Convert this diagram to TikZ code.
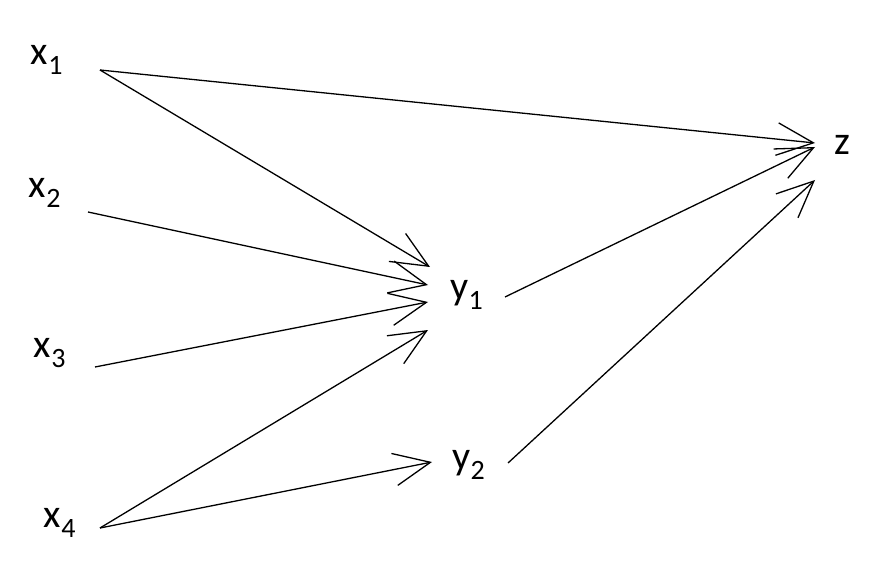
\documentclass[tikz,border=0pt]{standalone}
\usepackage{fontspec}
\setmainfont{Carlito}
\usetikzlibrary{arrows.meta}
\begin{document}
\begin{tikzpicture}[x=1pt,y=-1pt,
  lbl/.style={font=\fontsize{40}{40}\selectfont},
  arr/.style={draw,line width=1.3pt,-{Straight Barb[angle=48:40pt,line width=1.3pt]}}]
\useasboundingbox (0,0) rectangle (875,577);
\node[lbl] (x1) at (47,60) {x\textsubscript{1}};
\node[lbl] (x2) at (45,193) {x\textsubscript{2}};
\node[lbl] (x3) at (50,353) {x\textsubscript{3}};
\node[lbl] (x4) at (60,523) {x\textsubscript{4}};
\node[lbl] (y1) at (467,295) {y\textsubscript{1}};
\node[lbl] (y2) at (469,465) {y\textsubscript{2}};
\node[lbl] (z) at (842,145) {z};
\coordinate (x1o) at (100,70);
\coordinate (x2o) at (88,212);
\coordinate (x3o) at (95,367);
\coordinate (x4o) at (100,528);
\coordinate (y1a) at (430,267);
\coordinate (y1b) at (428,285);
\coordinate (y1c) at (428,302);
\coordinate (y1d) at (428,330);
\coordinate (y1o) at (505,297);
\coordinate (y2i) at (432,462);
\coordinate (y2o) at (508,463);
\coordinate (za) at (815,143);
\coordinate (zb) at (815,147);
\coordinate (zc) at (815,180);
\draw[arr] (x1o) -- (za);
\draw[arr] (x1o) -- (y1a);
\draw[arr] (x2o) -- (y1b);
\draw[arr] (x3o) -- (y1c);
\draw[arr] (x4o) -- (y1d);
\draw[arr] (x4o) -- (y2i);
\draw[arr] (y1o) -- (zb);
\draw[arr] (y2o) -- (zc);
\end{tikzpicture}
\end{document}
